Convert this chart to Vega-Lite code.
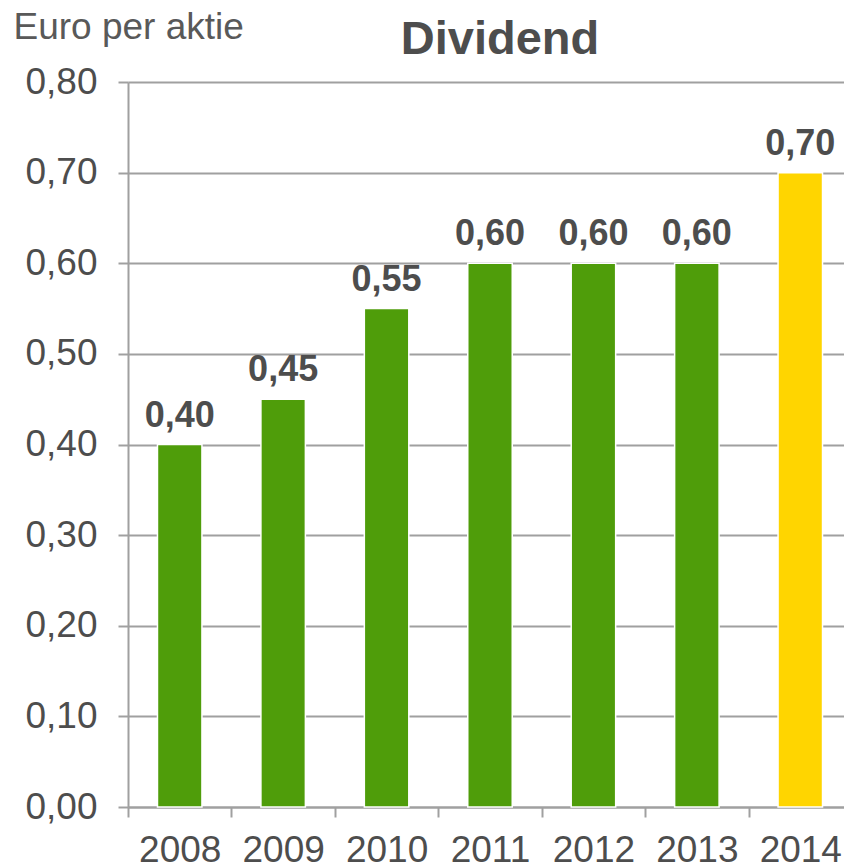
{
  "$schema": "https://vega.github.io/schema/vega-lite/v6.json",
  "width": 724,
  "height": 725,
  "autosize": "none",
  "padding": {"left": 128, "top": 82, "right": 0, "bottom": 61},
  "background": "white",
  "config": {
    "view": {"stroke": null},
    "locale": {"number": {"decimal": ",", "thousands": ".", "grouping": [3], "currency": ["", " €"]}},
    "font": "Liberation Sans"
  },
  "title": {
    "text": "Dividend",
    "fontSize": 47,
    "fontWeight": "bold",
    "font": "Liberation Sans",
    "color": "#4d4d4d",
    "anchor": "middle",
    "frame": "group",
    "baseline": "alphabetic",
    "dx": 10,
    "dy": 97
  },
  "data": {
    "values": [
      {"year": "2008", "dividend": 0.40, "kind": "past"},
      {"year": "2009", "dividend": 0.45, "kind": "past"},
      {"year": "2010", "dividend": 0.55, "kind": "past"},
      {"year": "2011", "dividend": 0.60, "kind": "past"},
      {"year": "2012", "dividend": 0.60, "kind": "past"},
      {"year": "2013", "dividend": 0.60, "kind": "past"},
      {"year": "2014", "dividend": 0.70, "kind": "proposed"}
    ]
  },
  "encoding": {
    "x": {
      "field": "year",
      "type": "ordinal",
      "scale": {"paddingInner": 0, "paddingOuter": 0},
      "axis": {
        "title": null,
        "labelAngle": 0,
        "labelFontSize": 37,
        "labelColor": "#4d4d4d",
        "labelPadding": 15,
        "tickBand": "extent",
        "tickSize": 10,
        "tickColor": "#a0a0a0",
        "tickWidth": 2,
        "domainColor": "#a0a0a0",
        "domainWidth": 2,
        "grid": false
      }
    },
    "y": {
      "field": "dividend",
      "type": "quantitative",
      "scale": {"domain": [0, 0.8], "nice": false},
      "axis": {
        "values": [0, 0.1, 0.2, 0.3, 0.4, 0.5, 0.6, 0.7, 0.8],
        "format": ".2f",
        "labelFontSize": 37,
        "labelColor": "#4d4d4d",
        "labelPadding": 21,
        "tickSize": 10,
        "tickColor": "#a0a0a0",
        "tickWidth": 2,
        "domainColor": "#a0a0a0",
        "domainWidth": 2,
        "grid": true,
        "gridColor": "#a0a0a0",
        "gridWidth": 2,
        "title": "Euro per aktie",
        "titleAngle": 0,
        "titleAlign": "left",
        "titleBaseline": "alphabetic",
        "titleX": -115,
        "titleY": -44,
        "titleFontSize": 37,
        "titleFontWeight": "normal",
        "titleColor": "#595959"
      }
    }
  },
  "layer": [
    {
      "mark": {"type": "bar", "width": {"band": 0.43}, "stroke": "white", "strokeWidth": 1.5},
      "encoding": {
        "color": {
          "field": "kind",
          "type": "nominal",
          "scale": {"domain": ["past", "proposed"], "range": ["#4f9d0a", "#ffd500"]},
          "legend": null
        }
      }
    },
    {
      "mark": {"type": "text", "baseline": "alphabetic", "dy": -18, "fontSize": 36, "fontWeight": "bold", "color": "#4d4d4d"},
      "encoding": {
        "text": {"field": "dividend", "type": "quantitative", "format": ".2f"}
      }
    }
  ]
}
